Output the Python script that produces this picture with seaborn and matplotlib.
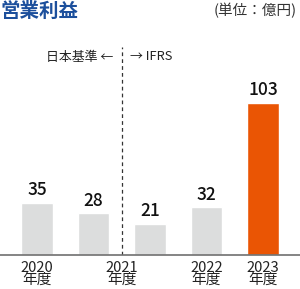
import matplotlib
matplotlib.use("Agg")
import matplotlib.pyplot as plt
import seaborn as sns
import pandas as pd

categories = ["2020", "2021日本基準", "2021IFRS", "2022", "2023"]
values = [35, 28, 21, 32, 103]
bar_colors = ["#dcdddd", "#dcdddd", "#dcdddd", "#dcdddd", "#ea5504"]
tick_labels = ["2020\n年度", "2021\n年度", "2022\n年度", "2023\n年度"]
tick_pos = [0, 1.5, 3, 4]

sns.set_style("white")
plt.rcParams['font.family'] = ['Noto Sans CJK JP', 'DejaVu Sans']

fig = plt.figure(figsize=(3.0, 2.89), dpi=100)
ax = fig.add_axes([0, 34.3/289, 1, (254.7-30)/289])

df = pd.DataFrame({"cat": categories, "val": values})
sns.barplot(data=df, x="cat", y="val", hue="cat", palette=bar_colors,
            order=categories, width=0.566, legend=False, ax=ax, saturation=1)

ax.set_xlim(-37/56.5, (300-37)/56.5)
ax.set_ylim(0, 224.7/1.476)
for s in ["top", "right", "left"]:
    ax.spines[s].set_visible(False)
ax.spines["bottom"].set_color("#707070")
ax.spines["bottom"].set_linewidth(1.2)
ax.set_xticks([])
ax.set_yticks([])
ax.set_xlabel("")
ax.set_ylabel("")

for i, v in enumerate(values):
    ax.text(i, v + 2.5, str(v), ha="center", va="bottom", fontsize=12.5,
            fontweight="medium", color="#111111")

for p, t in zip(tick_pos, tick_labels):
    ax.text(p, -4.5, t, ha="center", va="top", fontsize=10.6, color="#222222",
            linespacing=0.86)

ax.axvline(1.5, ymin=0, ymax=(254.7-47)/224.7, color="#333333", lw=0.9, ls=(0, (3, 2.5)))
ax.text(1.345, (254.7-57)/1.476, "日本基準 ←", ha="right", va="center", fontsize=9.3, color="#222222")
ax.text(1.646, (254.7-57)/1.476, "→ IFRS", ha="left", va="center", fontsize=9.3, color="#222222")

fig.text(0.0, 1 - 11/289, "営業利益", ha="left", va="center", fontsize=14,
         fontweight="bold", color="#1c4f9c")
fig.text(0.99, 1 - 11/289, "(単位：億円)", ha="right", va="center", fontsize=10.5, color="#333333")

fig.savefig("out.png", dpi=100)
